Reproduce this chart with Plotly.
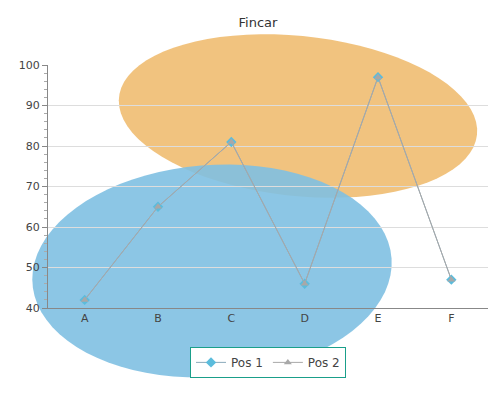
import numpy as np
import plotly.graph_objects as go

categories = ["A", "B", "C", "D", "E", "F"]
pos1 = [42, 65, 81, 46, 97, 47]
pos2 = [42, 65, 81, 46, 97, 47]

L, R, T, B = 40, 20, 57, 100
W, H = 500, 400
pw, ph = W - L - R, H - T - B

def ellipse_path(cx, cy, rx, ry, ang):
    t = np.linspace(0, 2 * np.pi, 80)
    a = np.radians(ang)
    x = cx + rx * np.cos(t) * np.cos(a) - ry * np.sin(t) * np.sin(a)
    y = cy + rx * np.cos(t) * np.sin(a) + ry * np.sin(t) * np.cos(a)
    px = (x - L) / pw
    py = 1 - (y - T) / ph
    return "M" + " L".join(f"{u:.4f},{v:.4f}" for u, v in zip(px, py)) + " Z"

fig = go.Figure()
fig.add_trace(go.Scatter(x=categories, y=pos1, name="Pos 1", mode="lines+markers",
                         line=dict(color="#8aaabb", width=1),
                         marker=dict(symbol="diamond", size=8, color="#5bbcdc")))
fig.add_trace(go.Scatter(x=categories, y=pos2, name="Pos 2", mode="lines+markers",
                         line=dict(color="#a8a8a8", width=1),
                         marker=dict(symbol="triangle-up", size=7, color="#a8a8a8")))

shapes = [
    dict(type="path", xref="paper", yref="paper", layer="below",
         path=ellipse_path(290, 108, 180, 80, 6), fillcolor="#eeb868",
         line=dict(width=0), opacity=0.85),
    dict(type="path", xref="paper", yref="paper", layer="below",
         path=ellipse_path(204, 263, 180, 106, -4), fillcolor="#7fc0e2",
         line=dict(width=0), opacity=0.9),
]

fig.update_layout(
    width=W, height=H, margin=dict(l=L, r=R, t=T, b=B, autoexpand=False),
    paper_bgcolor="white", plot_bgcolor="rgba(0,0,0,0)",
    font=dict(family="DejaVu Sans", size=11, color="#444"),
    title=dict(text="Fincar", x=0.5, y=0.975, xanchor="center", font=dict(size=13, color="#333")),
    shapes=shapes,
    xaxis=dict(range=[-0.5, 5.5], showgrid=False, showline=True, linecolor="#888",
               ticks="", tickfont=dict(color="#444"), automargin=False),
    yaxis=dict(range=[40, 100], dtick=10, showgrid=True, gridcolor="#dddddd",
               showline=True, linecolor="#888", ticks="outside", ticklen=5, tickcolor="#888",
               minor=dict(dtick=2, ticks="outside", ticklen=3, tickcolor="#aaa"),
               zeroline=False, automargin=False),
    legend=dict(orientation="h", x=0.5, xanchor="center", y=-0.16, yanchor="top",
                bordercolor="#1a9f8a", borderwidth=1, bgcolor="white",
                font=dict(size=12, color="#444")),
)
fig.write_html("out.html")
